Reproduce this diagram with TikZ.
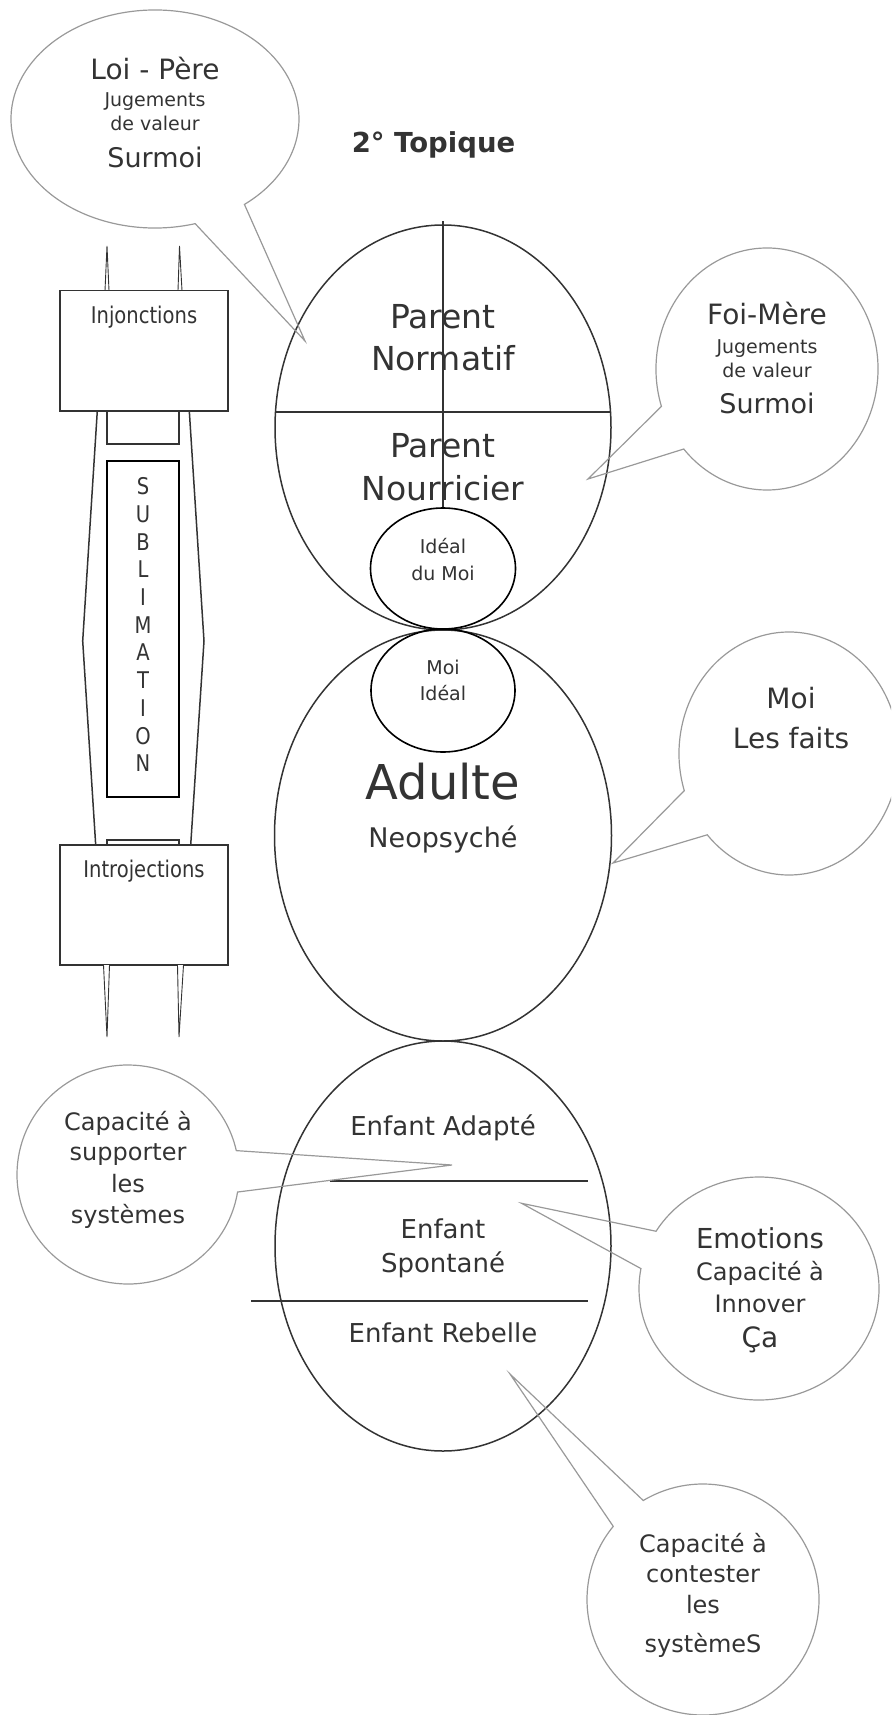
\documentclass[tikz,border=0pt]{standalone}
\usepackage{fontspec}
\setmainfont{DejaVu Sans}
\newfontfamily\narrowfont[FakeStretch=0.85]{DejaVu Sans}
\definecolor{ink}{HTML}{333333}
\definecolor{bgray}{HTML}{999999}
\newcommand{\myfs}[1]{\fontsize{#1}{#1}\selectfont}
\newcommand{\bubble}[8]{\draw[balloon] (#1,#2) ++(#5:#3 and #4) arc[start angle=#5, end angle=#6, x radius=#3, y radius=#4] -- (#7,#8) -- cycle;}
\begin{document}
\begin{tikzpicture}[x=1pt,y=-1pt,
  txt/.style={anchor=base, inner sep=0pt, text=ink},
  main/.style={draw=ink, line width=1.5pt},
  thinline/.style={draw=ink, line width=1.1pt},
  ideal/.style={draw=black, line width=1.6pt},
  subbox/.style={draw=black, line width=1.8pt},
  spike/.style={draw=ink, fill=white, line width=0.9pt, line join=miter},
  balloon/.style={draw=bgray, line width=1.2pt, line join=miter}]
\useasboundingbox (0,0) rectangle (891,1715);
\clip (0,0) rectangle (891,1715);

% ---- main ego states ----
\draw[main] (443,427.5) ellipse [x radius=168, y radius=202.5];
\draw[main] (275.5,412) -- (610.5,412);
\draw[thinline] (443,221) -- (443,508);
\draw[main] (443,835.5) ellipse [x radius=168.5, y radius=205.5];
\draw[ideal] (443,568.5) ellipse [x radius=72.5, y radius=60.5];
\draw[ideal] (443,690.5) ellipse [x radius=72, y radius=61.5];
\draw[main] (443,1246) ellipse [x radius=168, y radius=205];
\draw[main] (329.5,1181) -- (588,1181);
\draw[main] (251,1301) -- (588,1301);

% ---- left column ----
\draw[spike] (105,290.6) -- (107,246) -- (109,290.6);
\draw[spike] (178,290.6) -- (179.5,246) -- (182,290.6);
\draw[main] (97.3,410.9) -- (82.7,641) -- (95.7,845);
\draw[main] (189.3,410.9) -- (204,641) -- (190.7,845);
\draw[main] (107,410.9) -- (107,443.8) -- (179,443.8) -- (179,410.9);
\draw[main] (107,845) -- (107,839.8) -- (179,839.8) -- (179,845);
\draw[subbox] (107,460.6) rectangle (179,796.9);
\draw[main, fill=white] (60,290.6) rectangle (228,410.9);
\draw[main, fill=white] (60,845) rectangle (228,965);
\draw[spike] (103.5,965) -- (107,1037) -- (109.5,965);
\draw[spike] (177.5,965) -- (179,1037) -- (183.5,965);

% ---- balloons ----
\bubble{155}{119}{144}{109}{73.8}{411.6}{305}{341}
\bubble{767}{369}{111}{121}{162}{498.6}{588}{479}
\bubble{789}{753.5}{110}{121.5}{162.2}{498}{613}{863}
\bubble{128}{1174.5}{111}{109.5}{9.2}{347.4}{452}{1165}
\bubble{759}{1288.5}{120}{111.5}{210.9}{550.3}{521.6}{1203.3}
\bubble{703}{1599.5}{116}{115.5}{239}{579.3}{510}{1374}

% ---- texts ----
\node[txt, font=\myfs{28}] (loi1) at (155,80) {Loi - Père};
\node[txt, font=\myfs{19}] (loi2) at (155,107) {Jugements};
\node[txt, font=\myfs{19}] (loi3) at (155,131) {de valeur};
\node[txt, font=\myfs{27}] (loi4) at (155,168) {Surmoi};

\node[txt, font=\bfseries\myfs{27.5}] (title) at (433.5,153) {2° Topique};

\node[txt, font=\myfs{33}] (pn1) at (443,328) {Parent};
\node[txt, font=\myfs{33}] (pn2) at (443,370) {Normatif};
\node[txt, font=\myfs{33}] (pr1) at (443,457) {Parent};
\node[txt, font=\myfs{33}] (pr2) at (443,500) {Nourricier};
\node[txt, font=\myfs{19}] (im1) at (443,553) {Idéal};
\node[txt, font=\myfs{19}] (im2) at (443,580) {du Moi};
\node[txt, font=\myfs{19}] (mi1) at (443,674) {Moi};
\node[txt, font=\myfs{19}] (mi2) at (443,700) {Idéal};
\node[txt, font=\myfs{48}] (ad1) at (443,799) {Adulte};
\node[txt, font=\myfs{27}] (ad2) at (443,847) {Neopsyché};

\node[txt, font=\myfs{28}] (foi1) at (767,324) {Foi-Mère};
\node[txt, font=\myfs{19}] (foi2) at (767,353) {Jugements};
\node[txt, font=\myfs{19}] (foi3) at (767,377) {de valeur};
\node[txt, font=\myfs{27}] (foi4) at (767,413) {Surmoi};

\node[txt, font=\myfs{28}] (moi1) at (791,708) {Moi};
\node[txt, font=\myfs{28}] (moi2) at (791,748) {Les faits};

\node[txt, font=\narrowfont\myfs{23}] (inj) at (144,323) {Injonctions};
\node[txt, font=\narrowfont\myfs{23}] (intro) at (144,877) {Introjections};
\foreach \l [count=\i] in {S,U,B,L,I,M,A,T,I,O,N}
  \node[txt, font=\narrowfont\myfs{23}, name=sub\i] at (143,{494.6+27.72*(\i-1)}) {\l};

\node[txt, font=\myfs{26}] (ea) at (443,1135) {Enfant Adapté};
\node[txt, font=\myfs{26}] (es1) at (443,1238) {Enfant};
\node[txt, font=\myfs{26}] (es2) at (443,1272) {Spontané};
\node[txt, font=\myfs{26}] (er) at (443,1342) {Enfant Rebelle};

\node[txt, font=\myfs{24}] (cs1) at (128,1130) {Capacité à};
\node[txt, font=\myfs{24}] (cs2) at (128,1160) {supporter};
\node[txt, font=\myfs{24}] (cs3) at (128,1192) {les};
\node[txt, font=\myfs{24}] (cs4) at (128,1223) {systèmes};

\node[txt, font=\myfs{27.5}] (em1) at (760,1248) {Emotions};
\node[txt, font=\myfs{24}] (em2) at (760,1280) {Capacité à};
\node[txt, font=\myfs{24}] (em3) at (760,1312) {Innover};
\node[txt, font=\myfs{28}] (em4) at (760,1347) {Ça};

\node[txt, font=\myfs{24}] (cc1) at (703,1552) {Capacité à};
\node[txt, font=\myfs{24}] (cc2) at (703,1582) {contester};
\node[txt, font=\myfs{24}] (cc3) at (703,1613) {les};
\node[txt, font=\myfs{24}] (cc4) at (703,1652) {systèmeS};
\end{tikzpicture}
\end{document}
